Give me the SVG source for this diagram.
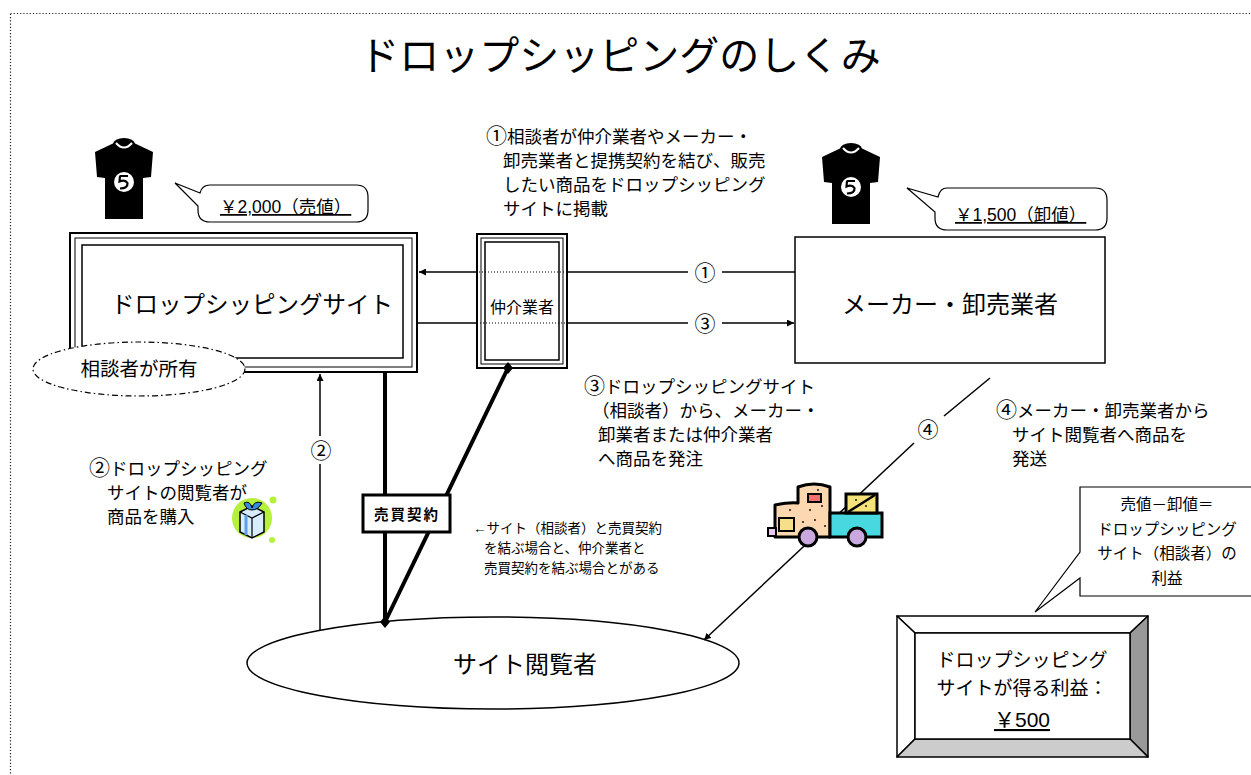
<svg xmlns="http://www.w3.org/2000/svg" width="1251" height="775" viewBox="0 0 1251 775">
<defs>
<style>
text{font-family:"Liberation Sans","Noto Sans CJK JP",sans-serif;fill:#000}
.t17{font-size:17.5px}
.t15{font-size:15.5px}
.num{font-size:21px}
.ln{fill:none;stroke:#000;stroke-width:1.5}
.thick{fill:none;stroke:#000;stroke-width:4}
.dot{fill:none;stroke:#000;stroke-width:1;stroke-dasharray:1 2}
</style>
<marker id="arr" viewBox="0 0 10 10" refX="10" refY="5" markerWidth="7" markerHeight="7" orient="auto" markerUnits="userSpaceOnUse">
<path d="M0,0 L10,5 L0,10 Z" fill="#000"/>
</marker>
<symbol id="shirt" viewBox="0 0 58 80" overflow="visible">
<path d="M0,12 L19,3 Q29,12 39,3 L58,12 L56,37 L48,38 L48,79 L10,79 L10,38 L2,37 Z" fill="#000"/>
<ellipse cx="29" cy="4" rx="11" ry="6" fill="#000"/>
<path d="M21,3 Q29,12 37,3" fill="none" stroke="#fff" stroke-width="2"/>
<circle cx="29" cy="42" r="10" fill="#fff"/>
<path d="M24.5,36 L33,36 M25,36 L24.5,41.5 Q30,39 32.5,43 Q33,48.5 25,48.5" fill="none" stroke="#000" stroke-width="2.2"/>
</symbol>
</defs>
<rect width="1251" height="775" fill="#fff"/>
<!-- page frame -->
<rect x="10.5" y="13.5" width="1300" height="800" fill="none" stroke="#222" stroke-width="1.2" stroke-dasharray="1.2 2"/>

<text x="620" y="70" font-size="40" text-anchor="middle">ドロップシッピングのしくみ</text>

<!-- connectors -->
<g id="connectors">
<!-- 1: maker -> site -->
<line class="ln" x1="795" y1="272" x2="722" y2="272"/>
<line class="ln" x1="688" y1="272" x2="567" y2="272"/>
<line class="dot" x1="567" y1="272" x2="477" y2="272"/>
<line class="ln" x1="477" y1="272" x2="419" y2="272" marker-end="url(#arr)"/>
<text class="num" x="705" y="280" text-anchor="middle">①</text>
<!-- 3: site -> maker -->
<line class="ln" x1="418" y1="323" x2="477" y2="323"/>
<line class="dot" x1="477" y1="323" x2="567" y2="323"/>
<line class="ln" x1="567" y1="323" x2="688" y2="323"/>
<line class="ln" x1="722" y1="323" x2="794" y2="323" marker-end="url(#arr)"/>
<text class="num" x="705" y="331" text-anchor="middle">③</text>
<!-- 2: viewer -> site -->
<line class="ln" x1="320" y1="631" x2="320" y2="464"/>
<line class="ln" x1="320" y1="436" x2="320" y2="374" marker-end="url(#arr)"/>
<text class="num" x="321" y="458" text-anchor="middle">②</text>
<!-- 4: maker -> viewer -->
<line class="ln" x1="990" y1="378" x2="944" y2="416"/>
<line class="ln" x1="914" y1="443" x2="704" y2="640" marker-end="url(#arr)"/>
<text class="num" x="928" y="437" text-anchor="middle">④</text>
<!-- sales contract links -->
<line class="thick" x1="385" y1="369" x2="385" y2="622"/>
<line class="thick" x1="508" y1="368" x2="385" y2="622"/>
<path d="M385,363 L390,369 L385,375 L380,369 Z M385,616 L390,622 L385,628 L380,622 Z M508,362 L513,368 L508,374 L503,368 Z" fill="#000"/>
</g>

<g id="site">
<rect x="70" y="233" width="347" height="139" fill="#fff" stroke="#000" stroke-width="2"/>
<rect x="75" y="238" width="337" height="129" fill="none" stroke="#000" stroke-width="1"/>
<rect x="82" y="245" width="321" height="113" fill="none" stroke="#000" stroke-width="1.5"/>
<text x="252" y="313" font-size="23.5" text-anchor="middle">ドロップシッピングサイト</text>
</g>

<g id="owner">
<ellipse cx="139" cy="369" rx="106" ry="27" fill="#fff" stroke="#000" stroke-width="1.2" stroke-dasharray="6 3 1.5 3"/>
<text x="139" y="376" font-size="19.5" text-anchor="middle">相談者が所有</text>
</g>

<g id="broker">
<rect x="477" y="234" width="90" height="134" fill="none" stroke="#000" stroke-width="2"/>
<rect x="481" y="238" width="82" height="126" fill="none" stroke="#000" stroke-width="1"/>
<rect x="485" y="242" width="74" height="118" fill="none" stroke="#000" stroke-width="1.5"/>
<text x="522" y="313" font-size="16" text-anchor="middle">仲介業者</text>
</g>

<g id="maker">
<rect x="795" y="237" width="310" height="126" fill="#fff" stroke="#000" stroke-width="1.5"/>
<text x="950" y="313" font-size="24" text-anchor="middle">メーカー・卸売業者</text>
</g>

<g id="viewer">
<ellipse cx="493" cy="663" rx="246" ry="46" fill="none" stroke="#000" stroke-width="1.5"/>
<text x="525" y="673" font-size="24" text-anchor="middle">サイト閲覧者</text>
</g>

<g id="contract">
<rect x="363" y="495" width="87" height="37" fill="#fff" stroke="#000" stroke-width="3"/>
<text x="407" y="520" font-size="14.5" font-weight="bold" text-anchor="middle" letter-spacing="2">売買契約</text>
</g>

<g id="price-sell">
<use href="#shirt" x="95" y="140" width="58" height="80"/>
<path d="M210,185 H356 Q368,185 368,197 V210 Q368,222 356,222 H210 Q198,222 198,210 V206 L175,183 L200,193 Q202,185 210,185 Z" fill="#fff" stroke="#000" stroke-width="1.2"/>
<text class="t17" x="220" y="213" text-decoration="underline">￥2,000（売値）</text>
</g>

<g id="price-wholesale">
<use href="#shirt" x="822" y="145" width="58" height="80"/>
<path d="M947,188 H1095 Q1107,188 1107,200 V218 Q1107,230 1095,230 H947 Q935,230 935,218 V212 L907,188 L938,197 Q940,188 947,188 Z" fill="#fff" stroke="#000" stroke-width="1.2"/>
<text class="t17" x="955" y="221" text-decoration="underline">￥1,500（卸値）</text>
</g>

<g id="note-1">
<text class="t17" x="486" y="143"><tspan class="num">①</tspan>相談者が仲介業者やメーカー・</text>
<text class="t17" x="503" y="167">卸売業者と提携契約を結び、販売</text>
<text class="t17" x="503" y="191">したい商品をドロップシッピング</text>
<text class="t17" x="503" y="215">サイトに掲載</text>
</g>

<g id="note-2">
<text class="t17" x="89" y="475"><tspan class="num">②</tspan>ドロップシッピング</text>
<text class="t17" x="107" y="499">サイトの閲覧者が</text>
<text class="t17" x="107" y="523">商品を購入</text>
</g>

<g id="note-3">
<text class="t17" x="584" y="393"><tspan class="num">③</tspan>ドロップシッピングサイト</text>
<text class="t17" x="592" y="417">（相談者）から、メーカー・</text>
<text class="t17" x="598" y="441">卸業者または仲介業者</text>
<text class="t17" x="598" y="465">へ商品を発注</text>
</g>

<g id="note-4">
<text class="t17" x="996" y="417"><tspan class="num">④</tspan>メーカー・卸売業者から</text>
<text class="t17" x="1012" y="441">サイト閲覧者へ商品を</text>
<text class="t17" x="1012" y="465">発送</text>
</g>

<g id="note-contract">
<text x="473" y="533" font-size="13.5">←サイト（相談者）と売買契約</text>
<text x="484" y="553" font-size="13.5">を結ぶ場合と、仲介業者と</text>
<text x="484" y="573" font-size="13.5">売買契約を結ぶ場合とがある</text>
</g>

<g id="gift">
<circle cx="252" cy="518" r="20" fill="#b5f03c"/>
<circle cx="273" cy="500" r="3.5" fill="#b5f03c"/>
<circle cx="272" cy="540" r="3" fill="#b5f03c"/>
<path d="M240,512 L252,506 L264,512 L264,532 L252,538 L240,532 Z" fill="#d8ecff" stroke="#000" stroke-width="1.5"/>
<path d="M240,512 L252,518 L264,512 M252,518 V538" fill="none" stroke="#000" stroke-width="1.2"/>
<path d="M246,515 V535" stroke="#5aa0e8" stroke-width="3"/>
<path d="M244,503 Q250,500 252,508 Q254,500 262,503 Q258,510 252,510 Q246,510 244,503 Z" fill="#3a8ae0" stroke="#000" stroke-width="1"/>
</g>

<g id="truck">
<path d="M775,505 Q790,502 798,503 L798,487 Q814,481 830,487 L830,537 L775,537 Z" fill="#fcd7b0" stroke="#000" stroke-width="3" stroke-linejoin="round"/>
<rect x="830" y="513" width="52" height="24" fill="#48d8e0" stroke="#000" stroke-width="3"/>
<rect x="846" y="494" width="31" height="19" fill="#f5e27a" stroke="#000" stroke-width="3"/>
<line x1="848" y1="512" x2="875" y2="495" stroke="#000" stroke-width="2.5"/>
<rect x="779" y="518" width="15" height="13" fill="#f5df8a" stroke="#000" stroke-width="2"/>
<rect x="808" y="494" width="13" height="8" fill="#f07070" stroke="#000" stroke-width="2"/>
<rect x="768" y="528" width="8" height="8" fill="#e8c8f0" stroke="#000" stroke-width="2"/>
<circle cx="808" cy="537" r="9" fill="#c9a8e0" stroke="#000" stroke-width="3"/>
<circle cx="857" cy="537" r="9" fill="#c9a8e0" stroke="#000" stroke-width="3"/>
<g fill="#000">
<circle cx="810" cy="510" r="0.9"/><circle cx="815" cy="520" r="0.9"/><circle cx="822" cy="506" r="0.9"/><circle cx="803" cy="522" r="0.9"/><circle cx="825" cy="526" r="0.9"/><circle cx="790" cy="510" r="0.9"/><circle cx="818" cy="490" r="0.9"/><circle cx="856" cy="500" r="0.9"/><circle cx="866" cy="506" r="0.9"/>
</g>
</g>

<g id="profit-note">
<path d="M1080,487 H1262 V596 H1080 V578 L1035,612 L1080,552 Z" fill="#fff" stroke="#000" stroke-width="1.2"/>
<text class="t15" x="1167" y="510" text-anchor="middle">売値－卸値＝</text>
<text class="t15" x="1167" y="535" text-anchor="middle">ドロップシッピング</text>
<text class="t15" x="1167" y="559" text-anchor="middle">サイト（相談者）の</text>
<text class="t15" x="1167" y="584" text-anchor="middle">利益</text>
</g>

<g id="profit">
<path d="M897,616 H1148 L1130,633 H915 Z" fill="#fff" stroke="#000" stroke-width="1.5" stroke-linejoin="round"/>
<path d="M897,616 L915,633 V739 L897,757 Z" fill="#fff" stroke="#000" stroke-width="1.5" stroke-linejoin="round"/>
<path d="M1148,616 V757 L1130,739 V633 Z" fill="#999" stroke="#000" stroke-width="1.5" stroke-linejoin="round"/>
<path d="M897,757 H1148 L1130,739 H915 Z" fill="#ccc" stroke="#000" stroke-width="1.5" stroke-linejoin="round"/>
<rect x="915" y="633" width="215" height="106" fill="#fff" stroke="#000" stroke-width="1.5"/>
<text x="1022" y="667" font-size="19" text-anchor="middle">ドロップシッピング</text>
<text x="1022" y="695" font-size="19" text-anchor="middle">サイトが得る利益：</text>
<text x="1022" y="727" font-size="21" text-anchor="middle" text-decoration="underline">￥500</text>
</g>
</svg>
